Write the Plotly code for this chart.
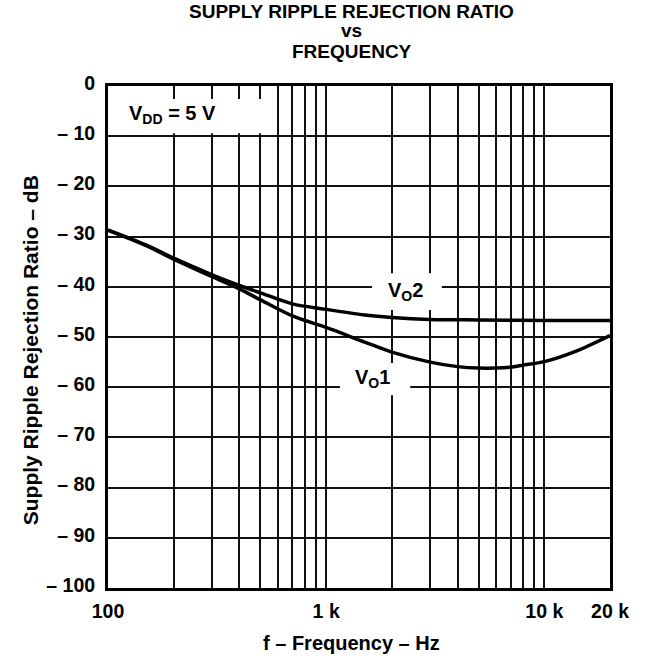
import plotly.graph_objects as go

# Supply ripple rejection ratio vs frequency, VDD = 5 V
freq_vo1 = [100, 150, 200, 300, 400, 500, 700, 1000, 1500, 2000, 3000, 4000,
            5000, 6000, 7000, 8000, 10000, 14000, 20000]
srr_vo1 = [-28.7, -31.8, -34.5, -38.0, -40.4, -42.6, -45.8, -48.1, -51.0,
           -53.0, -55.0, -55.9, -56.2, -56.2, -56.0, -55.6, -54.9, -52.8, -49.7]

freq_vo2 = [100, 150, 200, 300, 400, 500, 700, 1000, 1500, 2000, 3000, 5000,
            10000, 20000]
srr_vo2 = [-28.7, -31.7, -34.3, -37.6, -39.7, -41.2, -43.4, -44.5, -45.6,
           -46.1, -46.5, -46.6, -46.7, -46.7]

# Labelled frequencies, plus the unlabelled log-grid lines in between
x_tick_vals = [100, 1000, 10000, 20000]
x_tick_text = ["100", "1 k", "10 k", "20 k"]
x_minor_vals = [200, 300, 400, 500, 600, 700, 800, 900,
                2000, 3000, 4000, 5000, 6000, 7000, 8000, 9000]
y_tick_vals = [0, -10, -20, -30, -40, -50, -60, -70, -80, -90, -100]
y_tick_text = ["0", "– 10", "– 20", "– 30", "– 40", "– 50", "– 60", "– 70",
               "– 80", "– 90", "– 100"]

FONT = "Liberation Sans, Arial, sans-serif"
GRID = "#111111"

fig = go.Figure()
for fx, fy in ((freq_vo1, srr_vo1), (freq_vo2, srr_vo2)):
    fig.add_trace(go.Scatter(
        x=fx, y=fy, mode="lines",
        line=dict(color="black", width=3.5, shape="spline", smoothing=0.8),
        showlegend=False, hoverinfo="x+y"))

axis_common = dict(
    showline=True, linecolor="black", linewidth=3, mirror=True,
    showgrid=True, gridcolor=GRID, gridwidth=1.5,
    ticks="", zeroline=False,
    tickfont=dict(family=FONT, size=19.5, color="black", weight="bold"),
)

fig.update_xaxes(type="log", range=[2, 4.30103], tickmode="array",
                 tickvals=x_tick_vals, ticktext=x_tick_text,
                 minor=dict(tickmode="array", tickvals=x_minor_vals,
                            showgrid=True, gridcolor=GRID, gridwidth=1.5,
                            ticks=""),
                 ticklabelstandoff=4, **axis_common)
fig.update_yaxes(range=[-100, 0], tickmode="array",
                 tickvals=y_tick_vals, ticktext=y_tick_text,
                 ticklabelstandoff=6, ticklabelshift=-3, **axis_common)

# White patches that interrupt the grid behind the text labels
boxes = [
    (0.006, 0.319, 0.906, 0.974),   # VDD label
    (0.526, 0.665, 0.554, 0.627),   # VO2 label
    (0.462, 0.602, 0.384, 0.448),   # VO1 label
]
for x0, x1, y0, y1 in boxes:
    fig.add_shape(type="rect", xref="paper", yref="paper",
                  x0=x0, x1=x1, y0=y0, y1=y1,
                  fillcolor="white", line=dict(width=0), layer="above")

bold = dict(family=FONT, size=18, color="black", weight="bold")
notes = [
    ("SUPPLY RIPPLE REJECTION RATIO", 0.486, 1.1494, "center", 19),
    ("vs", 0.486, 1.1096, "center", 19),
    ("FREQUENCY", 0.486, 1.0697, "center", 19),
    ("V<sub>DD</sub> = 5 V", 0.038, 0.944, "left", 20),
    ("V<sub>O</sub>2", 0.592, 0.590, "center", 20),
    ("V<sub>O</sub>1", 0.526, 0.418, "center", 20),
    ("f – Frequency – Hz", 0.486, -0.1096, "center", 20),
]
for text, x, y, anchor, size in notes:
    fig.add_annotation(text=text, x=x, y=y, xref="paper", yref="paper",
                       xanchor=anchor, yanchor="middle", showarrow=False,
                       font=dict(bold, size=size))

fig.add_annotation(text="Supply Ripple Rejection Ratio – dB",
                   x=-0.155, y=0.474, xref="paper", yref="paper",
                   textangle=-90, xanchor="center", yanchor="middle",
                   showarrow=False, font=dict(bold, size=21))

fig.update_layout(
    width=648, height=661,
    margin=dict(l=108, r=38, t=86, b=73),
    paper_bgcolor="white", plot_bgcolor="white",
    font=dict(family=FONT, color="black"),
)

fig.write_html("out.html")
